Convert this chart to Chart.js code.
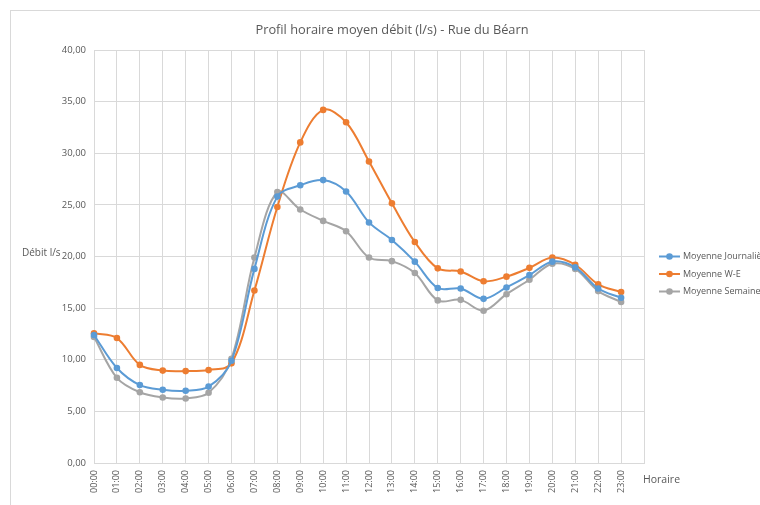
<!DOCTYPE html>
<html>
<head>
<meta charset="utf-8">
<script src="https://cdn.jsdelivr.net/npm/chart.js@4/dist/chart.umd.min.js"></script>
<style>
html,body{margin:0;padding:0;background:#fff;}
#wrap{position:relative;width:760px;height:505px;}
</style>
</head>
<body>
<div id="wrap"><canvas id="c" width="760" height="505"></canvas></div>
<script>
const hours = ['00:00','01:00','02:00','03:00','04:00','05:00','06:00','07:00','08:00','09:00','10:00','11:00',
  '12:00','13:00','14:00','15:00','16:00','17:00','18:00','19:00','20:00','21:00','22:00','23:00',''];
const moyenneJournaliere = [12.4, 9.2, 7.55, 7.1, 7.0, 7.4, 9.9, 18.8, 25.8, 26.9, 27.4, 26.3, 23.3, 21.6, 19.5, 16.95, 16.9, 15.9, 17.0, 18.2, 19.5, 18.95, 16.9, 16.0];
const moyenneWE = [12.56, 12.1, 9.5, 8.95, 8.9, 9.0, 9.65, 16.7, 24.8, 31.05, 34.2, 33.0, 29.2, 25.15, 21.4, 18.85, 18.55, 17.6, 18.05, 18.9, 19.9, 19.2, 17.3, 16.55];
const moyenneSemaine = [12.2, 8.25, 6.85, 6.35, 6.25, 6.8, 10.1, 19.9, 26.25, 24.55, 23.45, 22.45, 19.9, 19.55, 18.4, 15.75, 15.8, 14.75, 16.35, 17.75, 19.3, 18.8, 16.65, 15.6];
const seriesNames = ['Moyenne Journalière', 'Moyenne W-E', 'Moyenne Semaine'];
const titleText = 'Profil horaire moyen débit (l/s) - Rue du Béarn';
const yAxisLabel = 'Débit l/s';
const xAxisLabel = 'Horaire';

const FONT = '"Open Sans", sans-serif';
const TXT = '#595959';

function ds(label, data, color){
  return {label, data, borderColor: color, backgroundColor: color, borderWidth: 2,
    pointRadius: 3.3, pointBorderWidth: 0, pointBackgroundColor: color, tension: 0.35, fill: false};
}

const extras = {
  id: 'extras',
  afterDraw(chart){
    const ctx = chart.ctx;
    ctx.save();
    // frame
    ctx.strokeStyle = '#d9d9d9'; ctx.lineWidth = 1;
    ctx.strokeRect(10.5, 10.5, 900, 700);
    // title
    ctx.fillStyle = TXT;
    ctx.textBaseline = 'middle'; ctx.textAlign = 'center';
    ctx.font = '12.8px ' + FONT;
    ctx.fillText(titleText, 392, 30);
    // axis labels
    ctx.textAlign = 'left';
    ctx.font = '10px ' + FONT;
    ctx.fillText(yAxisLabel, 22, 253);
    ctx.font = '10.5px ' + FONT;
    ctx.fillText(xAxisLabel, 643, 480);
    // legend
    const ys = [256.5, 274, 291.5];
    chart.data.datasets.forEach((d, i) => {
      const y = ys[i];
      ctx.strokeStyle = d.borderColor; ctx.lineWidth = 2;
      ctx.beginPath(); ctx.moveTo(659, y); ctx.lineTo(680, y); ctx.stroke();
      ctx.fillStyle = d.borderColor;
      ctx.beginPath(); ctx.arc(669.5, y, 3.3, 0, Math.PI*2); ctx.fill();
      ctx.fillStyle = TXT; ctx.font = '9px ' + FONT;
      ctx.fillText(d.label, 683, y);
    });
    ctx.restore();
  }
};

new Chart(document.getElementById('c'), {
  type: 'line',
  data: {
    labels: hours,
    datasets: [
      ds(seriesNames[0], moyenneJournaliere, '#5B9BD5'),
      ds(seriesNames[1], moyenneWE, '#ED7D31'),
      ds(seriesNames[2], moyenneSemaine, '#A5A5A5')
    ]
  },
  options: {
    responsive: false,
    animation: false,
    layout: {padding: {top: 50, right: 116, bottom: 0, left: 0}},
    plugins: {
      legend: {display: false},
      tooltip: {enabled: false},
      title: {display: false}
    },
    scales: {
      x: {
        offset: false,
        grid: {color: '#d9d9d9', drawTicks: false, lineWidth: 1},
        border: {color: '#d9d9d9'},
        ticks: {color: TXT, font: {family: FONT, size: 9}, minRotation: 90, maxRotation: 90, padding: 7, autoSkip: false},
        afterFit(s){ s.height = 42; }
      },
      y: {
        min: 0, max: 40,
        grid: {color: '#d9d9d9', drawTicks: false, lineWidth: 1},
        border: {display: false},
        ticks: {stepSize: 5, color: TXT, font: {family: FONT, size: 9.5}, padding: 8,
          callback: v => v.toFixed(2).replace('.', ',')},
        afterFit(s){ s.width = 94; }
      }
    }
  },
  plugins: [extras]
});
</script>
</body>
</html>
